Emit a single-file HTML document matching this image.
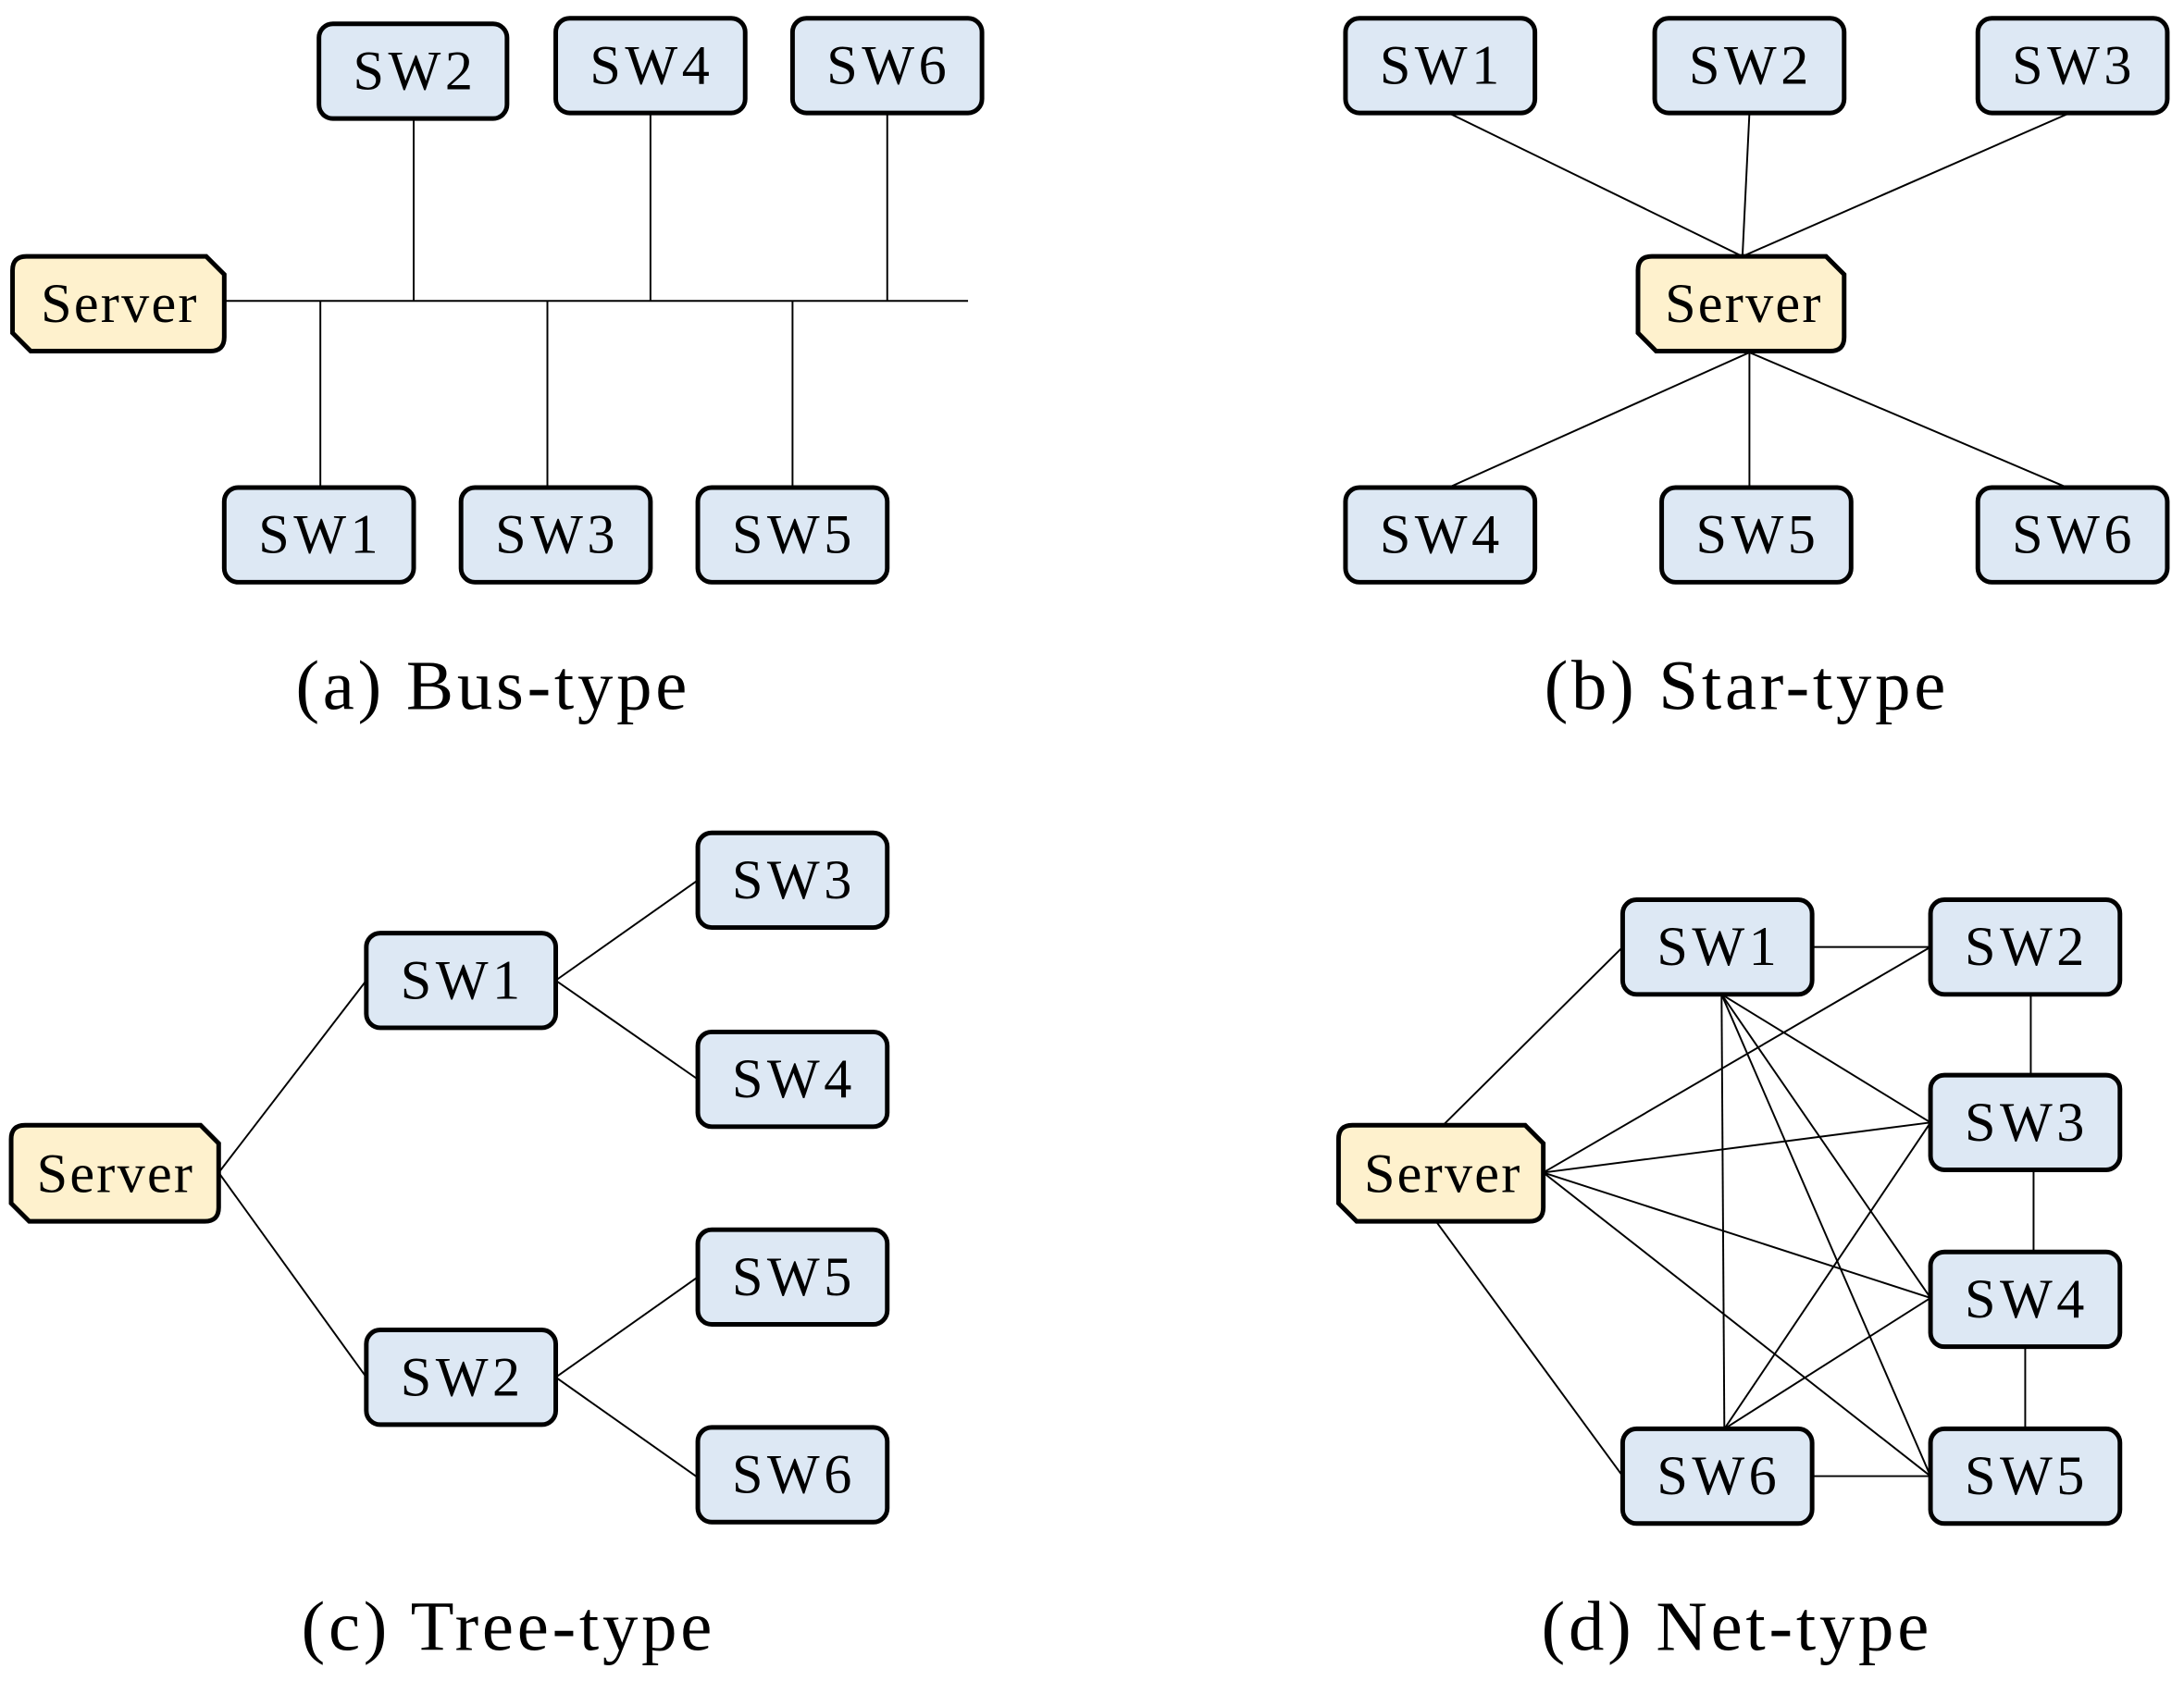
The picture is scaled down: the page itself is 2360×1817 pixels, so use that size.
<!DOCTYPE html>
<html><head><style>html,body{margin:0;padding:0;background:#fff}svg{display:block}</style></head>
<body>
<svg width="2360" height="1817" viewBox="0 0 1568 1207" xmlns="http://www.w3.org/2000/svg">
<defs>
<style>
.b{fill:#dde8f4;stroke:#000;stroke-width:3.3}
.s{fill:#fef1cd;stroke:#000;stroke-width:3.3}
.l{stroke:#000;stroke-width:1.3;fill:none}
text{font-family:"Liberation Serif",serif;font-size:40px;text-anchor:middle;letter-spacing:3px}
.c{font-size:51px;letter-spacing:2.5px}
</style>
</defs>
<g class="l">
<line x1="161" y1="216" x2="695" y2="216"/>
<line x1="297" y1="85" x2="297" y2="216"/>
<line x1="467" y1="81" x2="467" y2="216"/>
<line x1="637" y1="81" x2="637" y2="216"/>
<line x1="230" y1="216" x2="230" y2="350"/>
<line x1="393" y1="216" x2="393" y2="350"/>
<line x1="569" y1="216" x2="569" y2="350"/>
<line x1="1040" y1="81" x2="1251" y2="184"/>
<line x1="1256" y1="81" x2="1251" y2="184"/>
<line x1="1486" y1="81" x2="1251" y2="184"/>
<line x1="1256" y1="253" x2="1040" y2="350"/>
<line x1="1256" y1="253" x2="1256" y2="350"/>
<line x1="1256" y1="253" x2="1484" y2="350"/>
<line x1="157" y1="842" x2="263" y2="704"/>
<line x1="157" y1="842" x2="263" y2="989"/>
<line x1="399" y1="704" x2="501" y2="632"/>
<line x1="399" y1="704" x2="501" y2="775"/>
<line x1="399" y1="989" x2="501" y2="917"/>
<line x1="399" y1="989" x2="501" y2="1061"/>
<line x1="1036" y1="808" x2="1165" y2="680"/>
<line x1="1031" y1="877" x2="1165" y2="1060"/>
<line x1="1301" y1="680" x2="1386" y2="680"/>
<line x1="1458" y1="714" x2="1458" y2="772"/>
<line x1="1460" y1="840" x2="1460" y2="899"/>
<line x1="1454" y1="967" x2="1454" y2="1026"/>
<line x1="1301" y1="1060" x2="1386" y2="1060"/>
<line x1="1108" y1="842" x2="1386" y2="680"/>
<line x1="1108" y1="842" x2="1386" y2="806"/>
<line x1="1108" y1="842" x2="1386" y2="932"/>
<line x1="1108" y1="842" x2="1386" y2="1060"/>
<line x1="1236" y1="714" x2="1238" y2="1026"/>
<line x1="1236" y1="714" x2="1386" y2="806"/>
<line x1="1236" y1="714" x2="1386" y2="932"/>
<line x1="1236" y1="714" x2="1386" y2="1060"/>
<line x1="1238" y1="1026" x2="1386" y2="806"/>
<line x1="1238" y1="1026" x2="1386" y2="932"/>
</g>
<rect class="b" x="229" y="17" width="135" height="68" rx="10"/><text x="298" y="64">SW2</text>
<rect class="b" x="399" y="13" width="136" height="68" rx="10"/><text x="468" y="60">SW4</text>
<rect class="b" x="569" y="13" width="136" height="68" rx="10"/><text x="638" y="60">SW6</text>
<rect class="b" x="161" y="350" width="136" height="68" rx="10"/><text x="230" y="397">SW1</text>
<rect class="b" x="331" y="350" width="136" height="68" rx="10"/><text x="400" y="397">SW3</text>
<rect class="b" x="501" y="350" width="136" height="68" rx="10"/><text x="570" y="397">SW5</text>
<path class="s" d="M19,184 H148 L161,197 V242 Q161,252 151,252 H22 L9,239 V194 Q9,184 19,184 Z"/><text x="86" y="231" style="letter-spacing:1.5px">Server</text>
<rect class="b" x="966" y="13" width="136" height="68" rx="10"/><text x="1035" y="60">SW1</text>
<rect class="b" x="1188" y="13" width="136" height="68" rx="10"/><text x="1257" y="60">SW2</text>
<rect class="b" x="1420" y="13" width="136" height="68" rx="10"/><text x="1489" y="60">SW3</text>
<rect class="b" x="966" y="350" width="136" height="68" rx="10"/><text x="1035" y="397">SW4</text>
<rect class="b" x="1193" y="350" width="136" height="68" rx="10"/><text x="1262" y="397">SW5</text>
<rect class="b" x="1420" y="350" width="136" height="68" rx="10"/><text x="1489" y="397">SW6</text>
<path class="s" d="M1186,184 H1311 L1324,197 V242 Q1324,252 1314,252 H1189 L1176,239 V194 Q1176,184 1186,184 Z"/><text x="1252" y="231" style="letter-spacing:1.5px">Server</text>
<rect class="b" x="263" y="670" width="136" height="68" rx="10"/><text x="332" y="717">SW1</text>
<rect class="b" x="263" y="955" width="136" height="68" rx="10"/><text x="332" y="1002">SW2</text>
<rect class="b" x="501" y="598" width="136" height="68" rx="10"/><text x="570" y="645">SW3</text>
<rect class="b" x="501" y="741" width="136" height="68" rx="10"/><text x="570" y="788">SW4</text>
<rect class="b" x="501" y="883" width="136" height="68" rx="10"/><text x="570" y="930">SW5</text>
<rect class="b" x="501" y="1025" width="136" height="68" rx="10"/><text x="570" y="1072">SW6</text>
<path class="s" d="M18,808 H144 L157,821 V867 Q157,877 147,877 H21 L8,864 V818 Q8,808 18,808 Z"/><text x="83" y="856" style="letter-spacing:1.5px">Server</text>
<rect class="b" x="1165" y="646" width="136" height="68" rx="10"/><text x="1234" y="693">SW1</text>
<rect class="b" x="1386" y="646" width="136" height="68" rx="10"/><text x="1455" y="693">SW2</text>
<rect class="b" x="1386" y="772" width="136" height="68" rx="10"/><text x="1455" y="819">SW3</text>
<rect class="b" x="1386" y="899" width="136" height="68" rx="10"/><text x="1455" y="946">SW4</text>
<rect class="b" x="1386" y="1026" width="136" height="68" rx="10"/><text x="1455" y="1073">SW5</text>
<rect class="b" x="1165" y="1026" width="136" height="68" rx="10"/><text x="1234" y="1073">SW6</text>
<path class="s" d="M971,808 H1095 L1108,821 V867 Q1108,877 1098,877 H974 L961,864 V818 Q961,808 971,808 Z"/><text x="1036" y="856" style="letter-spacing:1.5px">Server</text>
<text class="c" x="354" y="509">(a) Bus-type</text>
<text class="c" x="1254" y="509">(b) Star-type</text>
<text class="c" x="365" y="1185">(c) Tree-type</text>
<text class="c" x="1247" y="1185">(d) Net-type</text>
</svg>
</body></html>
